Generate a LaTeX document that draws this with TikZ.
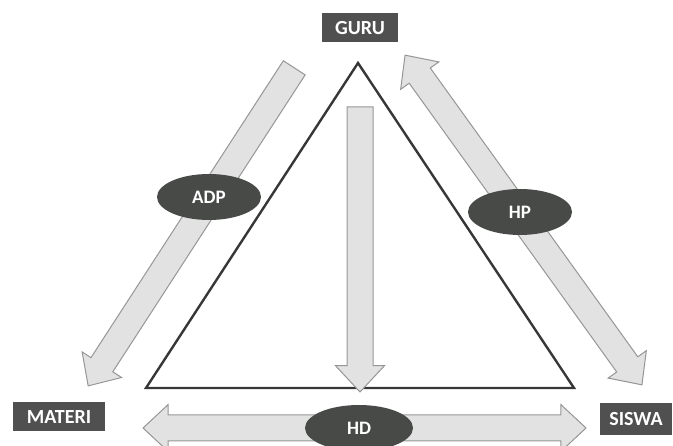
\documentclass[tikz,border=0pt]{standalone}
\usepackage{fontspec}
\setmainfont{Carlito}
\usetikzlibrary{shapes.arrows,shapes.geometric}
\definecolor{boxgray}{RGB}{80,80,80}
\definecolor{ovalgray}{RGB}{72,74,72}
\definecolor{arrowfill}{RGB}{226,226,226}
\definecolor{arrowline}{RGB}{150,150,150}
\definecolor{edgegray}{RGB}{55,55,55}
\tikzset{
  namebox/.style={rectangle,fill=boxgray,text=white,inner sep=0pt,
    minimum height=29pt,font=\fontsize{20}{22}\selectfont\bfseries},
  oval/.style={ellipse,fill=ovalgray,text=white,inner sep=0pt,
    minimum width=104pt,minimum height=46pt,font=\fontsize{19}{21}\selectfont\bfseries},
  fatarrow/.style={single arrow,fill=arrowfill,draw=arrowline,line width=1pt,
    inner xsep=0pt,inner ysep=12.5pt,single arrow head extend=10.5pt,
    single arrow tip angle=86},
  fatdouble/.style={double arrow,fill=arrowfill,draw=arrowline,line width=1pt,
    inner xsep=0pt,inner ysep=12.5pt,double arrow head extend=10.5pt,
    double arrow tip angle=86}
}
\begin{document}
\begin{tikzpicture}[x=1pt,y=-1pt]
  \useasboundingbox (0,0) rectangle (673,446);
  % triangle
  \draw[edgegray,line width=2.4pt,line join=miter]
    (358,63) -- (146,388) -- (574,388) -- cycle;
  % arrows
  \node[fatarrow,minimum height=379pt,rotate=237.06] (adparrow) at (195,221) {};
  \node[fatdouble,minimum height=406pt,rotate=-54.3] (hparrow) at (523.5,220) {};
  \node[fatarrow,minimum height=285pt,single arrow head extend=11.5pt,rotate=-90] (midarrow) at (360,242.5) {};
  \node[fatdouble,minimum height=443pt] (hdarrow) at (364.5,428) {};
  % labels
  \node[namebox,minimum width=76pt] (guru) at (360,28) {GURU};
  \node[namebox,minimum width=92pt] (materi) at (59,417) {MATERI};
  \node[namebox,minimum width=72pt,minimum height=32pt] (siswa) at (636,419) {SISWA};
  \node[oval] (adp) at (209,197) {ADP};
  \node[oval] (hp) at (520,212) {HP};
  \node[oval,minimum width=108pt] (hd) at (359,428) {HD};
\end{tikzpicture}
\end{document}
